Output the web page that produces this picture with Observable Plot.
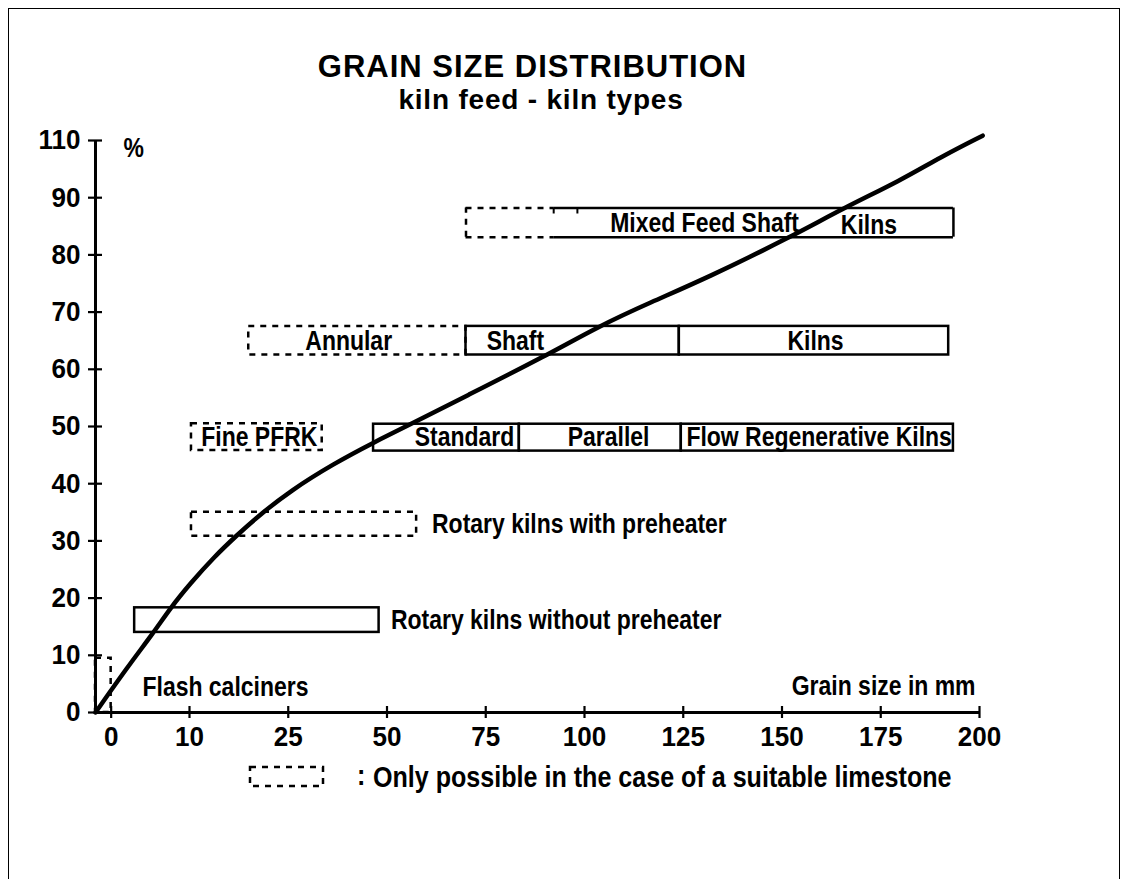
<!DOCTYPE html>
<html>
<head>
<meta charset="utf-8">
<script src="https://cdn.jsdelivr.net/npm/d3@7"></script>
<script src="https://cdn.jsdelivr.net/npm/@observablehq/plot@0.6"></script>
<style>
  html, body { margin: 0; padding: 0; background: #fff; }
  #wrap { position: relative; width: 1127px; height: 879px; overflow: hidden; background: #fff; }
  #chart { position: absolute; left: 0; top: 0; }
  #border { position: absolute; left: 8px; top: 8px; width: 1112px; height: 900px; border: 1.5px solid #000; box-sizing: border-box; pointer-events: none; }
  .title { position: absolute; left: 0; text-align: center; font-family: "Liberation Sans", Arial, sans-serif; font-weight: bold; color: #000; line-height: 1; white-space: nowrap; }
  #legend { position: absolute; left: 240px; top: 758px; overflow: visible; }
</style>
</head>
<body>
<div id="wrap">
  <div id="chart"></div>
  <div id="border"></div>
  <div class="title" style="top:51px; width:1065px; font-size:31px; letter-spacing:1px;">GRAIN SIZE DISTRIBUTION</div>
  <div class="title" style="top:86px; width:1082px; font-size:28px; letter-spacing:0.8px;">kiln feed - kiln types</div>
</div>
<script>
// ---------- axes ----------
const xBreaks = [-2, 10, 25, 50, 75, 100, 125, 150, 175, 200];   // scale breakpoints (mm), equally spaced from 10 on
const xTicks = [0, 10, 25, 50, 75, 100, 125, 150, 175, 200];
const yBreaks = [0, 90, 110];
const yTicks = [0, 10, 20, 30, 40, 50, 60, 70, 80, 90, 110];

// ---------- grain size distribution curve ----------
const curveMM  = [-2, 2.05, 5.44, 7.57, 10.15, 13.65, 17.3, 20.5, 25.6, 36.5, 46.6, 55.4, 69.4, 90.6, 103.5, 116.7, 131.1, 152.1, 165.6, 180.0, 190.1, 200.8];
const curvePct = [0, 7.9, 14.0, 18.3, 22.6, 27.1, 31.1, 34.4, 38.8, 43.5, 47.2, 50.2, 55.1, 62.5, 67.5, 71.7, 76.0, 83.1, 88.2, 96.0, 104.2, 111.7];

// ---------- kiln ranges (solid) ----------
const solidName = ["Rotary kilns without preheater", "Standard", "Parallel", "Flow Regenerative Kilns", "Shaft", "Kilns"];
const solidX1 = [3, 46.6, 83.5, 124.5, 70, 124];
const solidX2 = [48, 83.5, 124.5, 193.4, 124, 192.2];
const solidY1 = [14, 45.7, 45.7, 45.7, 62.5, 62.5];
const solidY2 = [18.3, 50.4, 50.4, 50.4, 67.5, 67.5];

// ---------- kiln ranges (only with suitable limestone, dashed) ----------
const dashName = ["Flash calciners", "Rotary kilns with preheater", "Fine PFRK", "Annular"];
const dashX1 = [-2, 10.3, 10.3, 19];
const dashX2 = [0, 57.5, 33.6, 70];
const dashY1 = [0, 30.8, 45.8, 62.5];
const dashY2 = [9.5, 35, 50.5, 67.5];

// ---------- mixed feed shaft kilns (dashed part, solid part) ----------
const mixedX = [70, 92.2, 193.4];
const mixedY = [83.1, 88.2];
const mixedNotch = [92.2, 98.2];

// ---------- labels ----------
const labelText = ["Flash calciners", "Rotary kilns without preheater", "Rotary kilns with preheater", "Fine PFRK", "Standard", "Parallel", "Flow Regenerative Kilns", "Annular", "Shaft", "Kilns", "Mixed Feed Shaft", "Kilns"];
const labelX = [4, 51, 61.4, 20.6, 69.6, 106.1, 159.4, 40.3, 82.5, 158.5, 130.4, 172];
const labelY = [4.4, 16.15, 32.9, 48.1, 48.1, 48.1, 48.1, 65, 65, 65, 85.65, 85.2];
const labelAnchor = ["start", "start", "start", "middle", "middle", "middle", "middle", "middle", "middle", "middle", "middle", "middle"];

const legendText = "Only possible in the case of a suitable limestone";

// ---------- font: bold, horizontally condensed ----------
const FONT = '"Liberation Sans", Arial, sans-serif';
const FS = 28;
const COND_LABEL = 0.82, COND_TICK = 0.93, COND_LEGEND = 0.865;

// ---------- layout ----------
const W = 1127, H = 879;
const mL = 95, mR = 148, mT = 140, mB = 167;
const firstSeg = 94;
const step = (W - mR - mL - firstSeg) / (xBreaks.length - 2);
const xRange = xBreaks.map((d, i) => i === 0 ? mL : mL + firstSeg + (i - 1) * step);
const yStep = (H - mB - mT) / 10;
const yRange = [H - mB, H - mB - 9 * yStep, mT];

const txt = {fontFamily: FONT, fontSize: FS, fontWeight: "bold", fill: "black"};
const box = {stroke: "black", strokeWidth: 2.5, fill: "none"};
const dash = {stroke: "black", strokeWidth: 2.5, fill: "none", strokeDasharray: "6,6"};
const idx = (a) => d3.range(a.length);
const byAnchor = (a) => idx(labelText).filter(i => labelAnchor[i] === a);

const chart = Plot.plot({
  width: W, height: H,
  marginLeft: mL, marginRight: mR, marginTop: mT, marginBottom: mB,
  style: {background: "transparent", color: "black", fontFamily: FONT, overflow: "visible"},
  x: {type: "linear", domain: xBreaks, range: xRange, axis: null},
  y: {type: "linear", domain: yBreaks, range: yRange, axis: null},
  marks: [
    // boxes
    Plot.rect(idx(dashName), {x1: i => dashX1[i], x2: i => dashX2[i], y1: i => dashY1[i], y2: i => dashY2[i], ...dash}),
    Plot.rect(idx(solidName), {x1: i => solidX1[i], x2: i => solidX2[i], y1: i => solidY1[i], y2: i => solidY2[i], ...box}),
    // mixed feed: dashed part
    Plot.ruleY(mixedY, {y: d => d, x1: mixedX[0], x2: mixedX[1], ...dash}),
    Plot.ruleX([mixedX[0]], {x: d => d, y1: mixedY[0], y2: mixedY[1], ...dash}),
    // mixed feed: solid part
    Plot.ruleY(mixedY, {y: d => d, x1: mixedX[1], x2: mixedX[2], ...box}),
    Plot.ruleX([mixedX[2]], {x: d => d, y1: mixedY[0], y2: mixedY[1], ...box}),
    Plot.ruleX(mixedNotch, {x: d => d, y1: mixedY[1], y2: mixedY[1], insetBottom: -6, stroke: "black", strokeWidth: 2}),
    // axis lines
    Plot.ruleY([0], {y: d => d, x1: xBreaks[0], x2: 200, stroke: "black", strokeWidth: 3}),
    Plot.ruleX([xBreaks[0]], {x: d => d, y1: 0, y2: 110, stroke: "black", strokeWidth: 3}),
    // ticks crossing the axes
    Plot.ruleX(xTicks, {x: d => d, y1: 0, y2: 0, insetTop: -6, insetBottom: -6, stroke: "black", strokeWidth: 2.2}),
    Plot.ruleY(yTicks, {y: d => d, x1: xBreaks[0], x2: xBreaks[0], insetLeft: -7, insetRight: -7, stroke: "black", strokeWidth: 2.2}),
    // tick labels
    Plot.axisX(xTicks, {tickSize: 0, tickPadding: 14, label: null, ...txt}),
    Plot.axisY(yTicks, {tickSize: 0, tickPadding: 15, label: null, ...txt}),
    // axis titles
    Plot.text(["%"], {frameAnchor: "top-left", textAnchor: "start", lineAnchor: "top", dx: 28, dy: -3, ...txt}),
    Plot.text(["Grain size in mm"], {frameAnchor: "bottom-right", textAnchor: "end", lineAnchor: "bottom", dx: -4, dy: -18, ...txt}),
    // curve
    Plot.line(idx(curveMM), {x: i => curveMM[i], y: i => curvePct[i], curve: "basis", stroke: "black", strokeWidth: 4.5, strokeLinecap: "round"}),
    // labels
    Plot.text(byAnchor("start"), {x: i => labelX[i], y: i => labelY[i], text: i => labelText[i], textAnchor: "start", lineAnchor: "middle", ...txt}),
    Plot.text(byAnchor("middle"), {x: i => labelX[i], y: i => labelY[i], text: i => labelText[i], textAnchor: "middle", lineAnchor: "middle", ...txt})
  ]
});
document.getElementById("chart").append(chart);

// legend
const leg = d3.create("svg").attr("id", "legend").attr("width", 820).attr("height", 44);
leg.append("rect").attr("x", 10).attr("y", 9).attr("width", 73).attr("height", 19)
  .attr("fill", "none").attr("stroke", "black").attr("stroke-width", 2.5).attr("stroke-dasharray", "6,6");
leg.append("text").attr("x", 117).attr("y", 27).text(":")
  .attr("font-family", FONT).attr("font-size", 29).attr("font-weight", "bold");
leg.append("text").attr("x", 133).attr("y", 29).text(legendText)
  .attr("font-family", FONT).attr("font-size", 29).attr("font-weight", "bold");
document.getElementById("wrap").append(leg.node());

function condense(nodes, k) {
  nodes.forEach(t => {
    if (t.hasAttribute("textLength")) return;
    const w = t.getComputedTextLength();
    if (w > 0) {
      t.setAttribute("textLength", (w * k).toFixed(2));
      t.setAttribute("lengthAdjust", "spacingAndGlyphs");
    }
  });
}
condense(chart.querySelectorAll('g[aria-label$="tick label"] text'), COND_TICK);
condense(chart.querySelectorAll("text"), COND_LABEL);
condense(leg.node().querySelectorAll("text"), COND_LEGEND);
</script>
</body>
</html>
